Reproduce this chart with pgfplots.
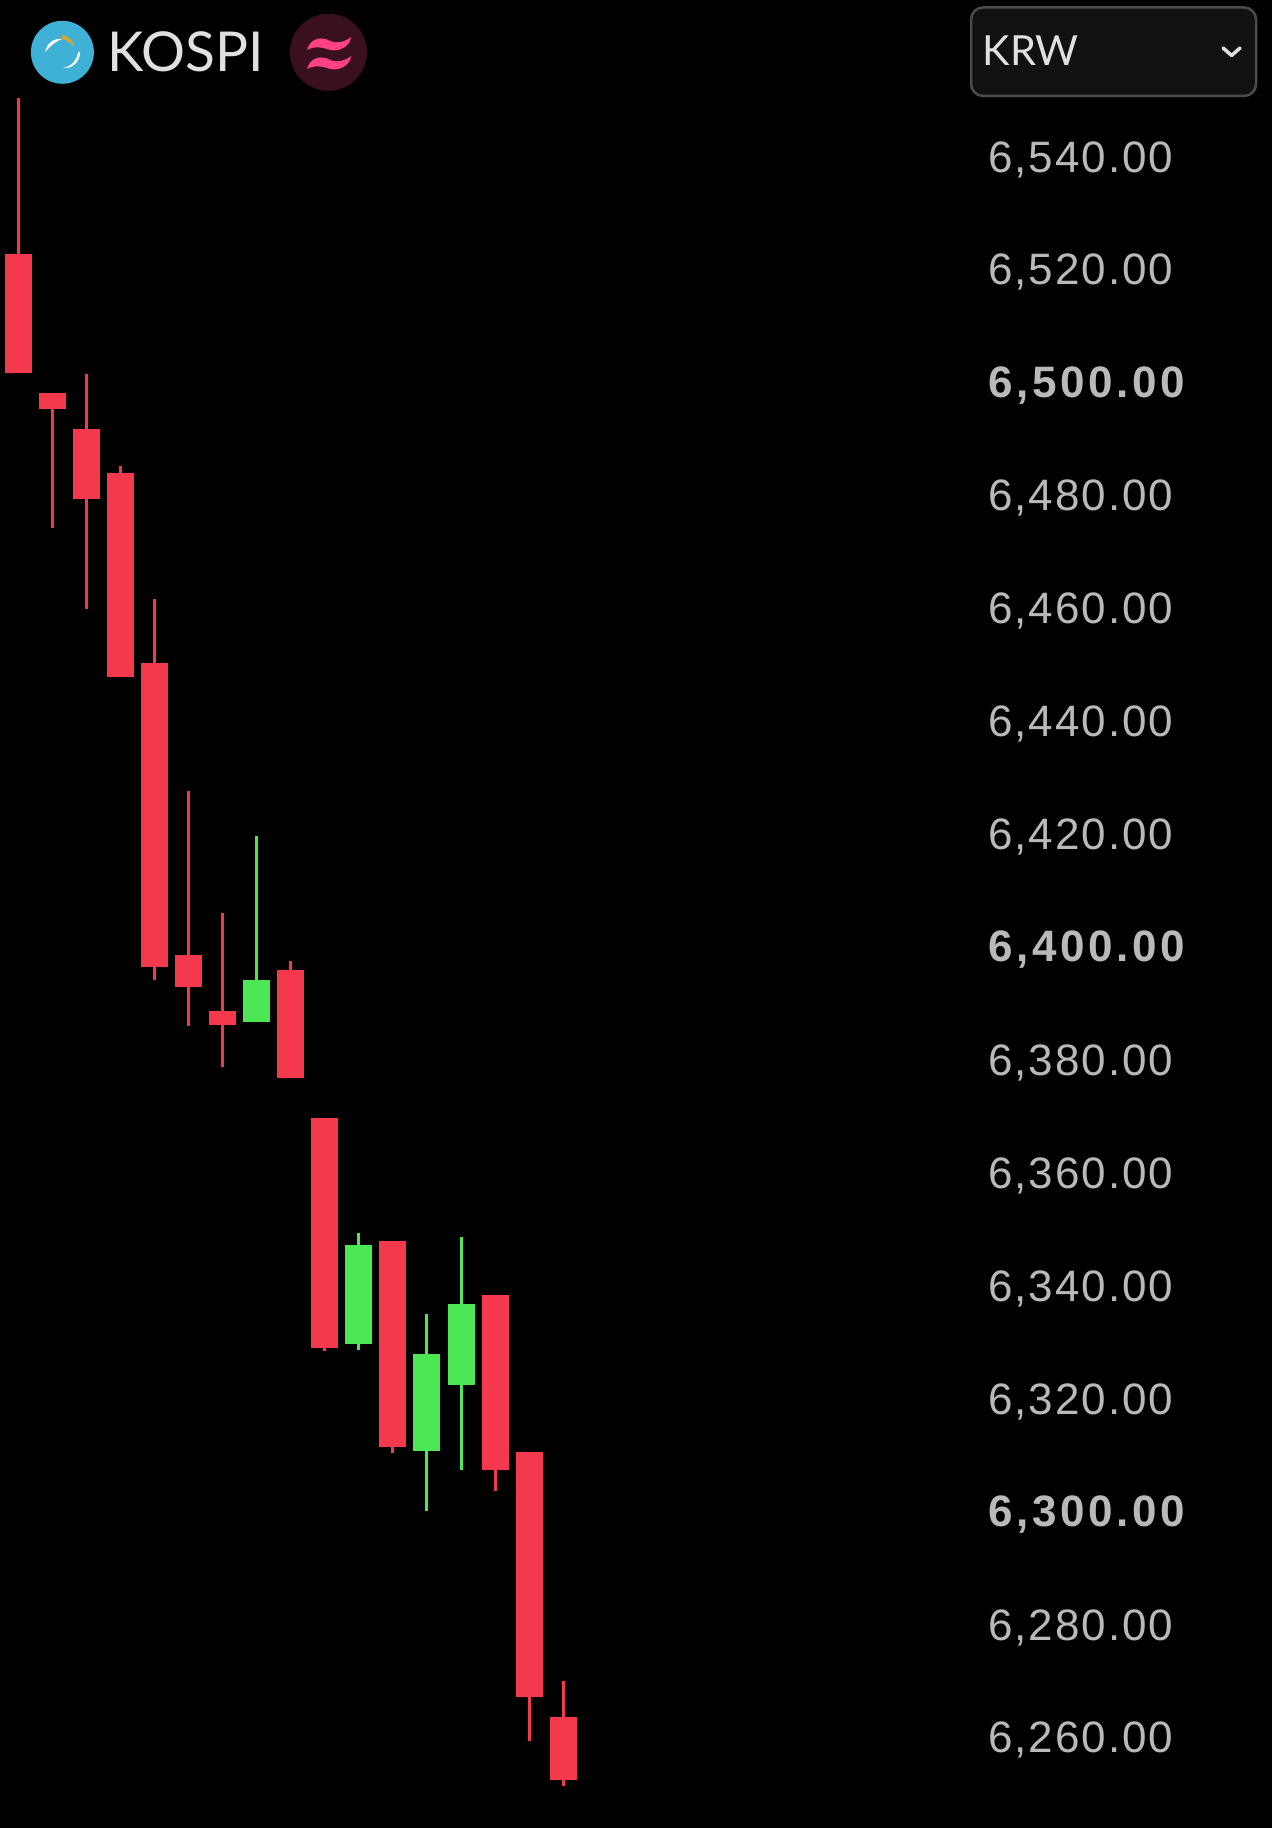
\documentclass[border=0pt]{standalone}
\usepackage{pgfplots}
\usepackage{pgfplotstable}
\usepackage{fontspec}
\pgfplotsset{compat=1.18}
\setmainfont{Liberation Sans}
\newfontfamily\lblfont[LetterSpace=4.5]{Liberation Sans}
\newfontfamily\lblbold[LetterSpace=8.4]{Liberation Sans Bold}
\newfontfamily\hdrfont{Lato}
\definecolor{cred}{HTML}{F3394B}
\definecolor{cgreen}{HTML}{4DE654}
\definecolor{lblgray}{HTML}{B9B9B9}
\definecolor{hdrgray}{HTML}{E0E0E0}
\definecolor{logoblue}{HTML}{3FB1D6}
\definecolor{logogold}{HTML}{D9A62E}
\definecolor{wavebg}{HTML}{3A1020}
\definecolor{wavepink}{HTML}{FF4284}
\definecolor{boxedge}{HTML}{4C4C4C}
\definecolor{boxfill}{HTML}{111111}
\newcommand\lbl[1]{{\lblfont #1}}
\newcommand\lblb[1]{{\lblbold #1}}
% each candle is a pair of rows (candle position, price); a nan row breaks the line
\pgfplotstableread{
i p
0 6550.06
0 6501.39
0 nan
1 6497.81
1 6473.94
1 nan
2 6501.18
2 6459.50
2 nan
3 6484.93
3 6447.60
3 nan
4 6461.32
4 6393.86
4 nan
5 6427.34
5 6385.73
5 nan
6 6405.71
6 6378.54
6 nan
7.975 6397.24
7.975 6376.57
7.975 nan
8.975 6369.45
8.975 6328.24
8.975 nan
10.975 6347.69
10.975 6310.09
10.975 nan
14 6338.10
14 6303.41
14 nan
15 6310.30
15 6259.02
15 nan
16 6269.72
16 6251.21
}\redwicks
\pgfplotstableread{
i p
7 6419.40
7 6386.48
7 nan
9.975 6349.10
9.975 6328.38
9.975 nan
11.975 6334.70
11.975 6299.86
11.975 nan
13 6348.39
13 6307.18
}\greenwicks
\pgfplotstableread{
i p
0 6522.47
0 6501.39
0 nan
1 6497.81
1 6495.01
1 nan
2 6491.45
2 6478.98
2 nan
3 6483.68
3 6447.60
3 nan
4 6450.06
4 6396.23
4 nan
5 6398.32
5 6392.71
5 nan
6 6388.42
6 6385.93
6 nan
7.975 6395.61
7.975 6376.57
7.975 nan
8.975 6369.45
8.975 6328.74
8.975 nan
10.975 6347.69
10.975 6311.22
10.975 nan
14 6338.10
14 6307.18
14 nan
15 6310.30
15 6266.82
15 nan
16 6263.34
16 6252.27
}\redbodies
\pgfplotstableread{
i p
7 6393.86
7 6386.48
7 nan
9.975 6346.96
9.975 6329.44
9.975 nan
11.975 6327.60
11.975 6310.51
11.975 nan
13 6336.47
13 6322.22
}\greenbodies
\begin{document}
\begin{tikzpicture}
\begin{axis}[
  scale only axis, width=1272pt, height=1828pt,
  xmin=-0.5433, xmax=36.813, ymin=6243.69, ymax=6567.45,
  clip=true,
  axis background/.style={fill=black},
  axis line style={draw=none},
  xtick=\empty,
  ytick={6260,6280,6300,6320,6340,6360,6380,6400,6420,6440,6460,6480,6500,6520,6540},
  yticklabels={\lbl{6,260.00},\lbl{6,280.00},\lblb{6,300.00},\lbl{6,320.00},\lbl{6,340.00},\lbl{6,360.00},\lbl{6,380.00},\lblb{6,400.00},\lbl{6,420.00},\lbl{6,440.00},\lbl{6,460.00},\lbl{6,480.00},\lblb{6,500.00},\lbl{6,520.00},\lbl{6,540.00}},
  yticklabel pos=right,
  major tick length=0pt,
  yticklabel style={anchor=west, inner sep=0pt, text=lblgray, font=\fontsize{44pt}{44pt}\selectfont, xshift=-284pt, yshift=-4.5pt},
  unbounded coords=jump,
]
\addplot[cred, line width=3pt, no markers, forget plot] table[x=i, y=p] {\redwicks};
\addplot[cgreen, line width=3pt, no markers, forget plot] table[x=i, y=p] {\greenwicks};
\addplot[cred, line width=27pt, no markers, forget plot] table[x=i, y=p] {\redbodies};
\addplot[cgreen, line width=27pt, no markers, forget plot] table[x=i, y=p] {\greenbodies};
\end{axis}
\begin{scope}[x=1pt,y=-1pt,yshift=1828pt]
  % KOSPI logo
  \fill[logoblue] (62.3,52.3) circle (31.5);
  \fill[white] (45,52) .. controls (47,42) and (55,38) .. (62,39) .. controls (56,41) and (50,46) .. (45,52) -- cycle;
  \fill[logogold] (62,35) .. controls (70,37) and (74,42) .. (74,47) .. controls (71,43) and (67,40) .. (62,39) -- cycle;
  \fill[white] (63,68) .. controls (72,66) and (77,60) .. (78,52) -- (80,52) .. controls (80,62) and (72,69) .. (63,68) -- cycle;
  \node[anchor=base west, inner sep=0pt, text=hdrgray, font=\hdrfont\fontsize{55pt}{55pt}\selectfont] at (107.5,71.5) {KOSPI};
  % Wave logo
  \fill[wavebg] (328.3,52.3) circle (38.5);
  \fill[wavepink] (307,50) .. controls (310,38) and (322,36) .. (330,41) .. controls (337,44) and (345,42) .. (351,37) .. controls (350,46) and (340,52) .. (330,50) .. controls (322,47) and (314,46) .. (307,50) -- cycle;
  \fill[wavepink] (307,69) .. controls (310,57) and (322,55) .. (330,60) .. controls (337,63) and (345,61) .. (351,56) .. controls (350,65) and (340,71) .. (330,69) .. controls (322,66) and (314,65) .. (307,69) -- cycle;
  % KRW selector
  \draw[boxedge, fill=boxfill, line width=2.5pt, rounded corners=12pt] (971,7.5) rectangle (1256,96);
  \node[anchor=base west, inner sep=0pt, text=hdrgray, font=\hdrfont\fontsize{41.5pt}{41.5pt}\selectfont] at (982.5,66) {KRW};
  \draw[hdrgray, line width=3.5pt, line cap=round, line join=round] (1223,48) -- (1231.5,55.5) -- (1240,48);
\end{scope}
\end{tikzpicture}
\end{document}
